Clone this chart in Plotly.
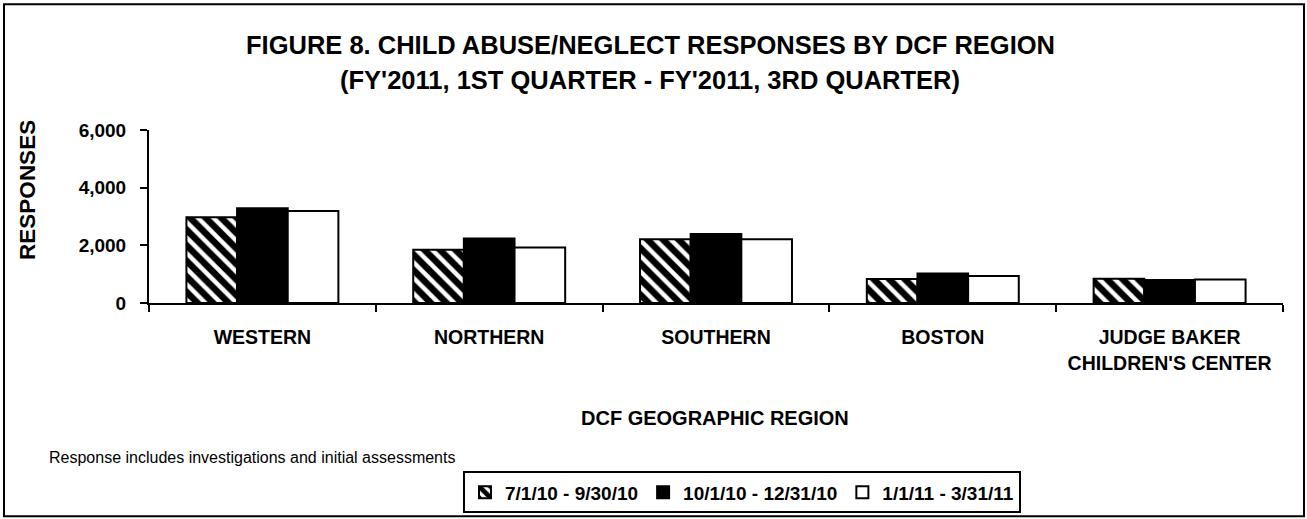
import plotly.graph_objects as go

categories = ["WESTERN", "NORTHERN", "SOUTHERN", "BOSTON", "JUDGE BAKER<br>CHILDREN'S CENTER"]
series_names = ["7/1/10 - 9/30/10", "10/1/10 - 12/31/10", "1/1/11 - 3/31/11"]
q1_values = [2970, 1845, 2210, 830, 840]
q2_values = [3290, 2235, 2395, 1020, 795]
q3_values = [3190, 1925, 2210, 935, 815]
y_ticks = [0, 2000, 4000, 6000]
y_ticklabels = ["0", "2,000", "4,000", "6,000"]

W, H = 1307, 519
PL, PR, PT, PB = 149, 1283, 130, 303.3
FONT = "Liberation Sans, Arial, sans-serif"


def px(x):
    return (x - PL) / (PR - PL)


def py(y):
    return (PB - y) / (PB - PT)


fig = go.Figure()
fig.add_trace(go.Bar(
    name=series_names[0], x=categories, y=q1_values,
    marker=dict(color="white", line=dict(color="black", width=2),
                pattern=dict(shape="\\", fgcolor="black", bgcolor="white", size=11, solidity=0.6, fgopacity=1)),
))
fig.add_trace(go.Bar(
    name=series_names[1], x=categories, y=q2_values,
    marker=dict(color="black", line=dict(color="black", width=2)),
))
fig.add_trace(go.Bar(
    name=series_names[2], x=categories, y=q3_values,
    marker=dict(color="white", line=dict(color="black", width=2)),
))

fig.update_layout(
    width=W, height=H,
    margin=dict(l=PL, r=W - PR, t=PT, b=H - PB, autoexpand=False),
    paper_bgcolor="white", plot_bgcolor="white",
    barmode="group", bargap=0.33, bargroupgap=0,
    font=dict(family=FONT, color="black", size=16),
    showlegend=True,
    legend=dict(
        orientation="h", x=px(463), y=py(472), xanchor="left", yanchor="top",
        bordercolor="black", borderwidth=2, bgcolor="white",
        font=dict(family=FONT, size=19, color="black", weight="bold"),
        traceorder="normal", itemwidth=30,
    ),
    xaxis=dict(
        showline=True, linecolor="black", linewidth=2,
        ticks="outside", tickson="boundaries", ticklen=7, tickwidth=2, tickcolor="black",
        tickfont=dict(family=FONT, size=19.5, color="black", weight="bold"),
        ticklabelstandoff=16,
        showgrid=False, zeroline=False,
    ),
    yaxis=dict(
        range=[0, 6000], tickvals=y_ticks, ticktext=y_ticklabels,
        showline=True, linecolor="black", linewidth=2,
        ticks="outside", ticklen=7, tickwidth=2, tickcolor="black",
        tickfont=dict(family=FONT, size=19, color="black", weight="bold"),
        ticklabelstandoff=10,
        showgrid=False, zeroline=False,
    ),
)

annotations = [
    dict(text="<b>FIGURE 8. CHILD ABUSE/NEGLECT RESPONSES BY DCF REGION</b>", x=px(650), y=py(45),
         font=dict(size=25.5), xanchor="center", yanchor="middle"),
    dict(text="<b>(FY'2011, 1ST QUARTER - FY'2011, 3RD QUARTER)</b>", x=px(650), y=py(80),
         font=dict(size=25.5), xanchor="center", yanchor="middle"),
    dict(text="<b>RESPONSES</b>", x=px(28), y=py(190), textangle=-90,
         font=dict(size=22.5), xanchor="center", yanchor="middle"),
    dict(text="<b>DCF GEOGRAPHIC REGION</b>", x=px(715), y=py(418),
         font=dict(size=20), xanchor="center", yanchor="middle"),
    dict(text="Response includes investigations and initial assessments", x=px(47), y=py(458),
         font=dict(size=16), xanchor="left", yanchor="middle"),
]
for a in annotations:
    a.update(xref="paper", yref="paper", showarrow=False)
fig.update_layout(annotations=annotations)

fig.add_shape(type="rect", xref="paper", yref="paper",
              x0=px(4), x1=px(1304), y0=py(4), y1=py(517),
              line=dict(color="black", width=2), fillcolor="rgba(0,0,0,0)", layer="below")

fig.write_html("out.html", config={"displayModeBar": False},
               post_script="document.body.style.margin='0';")
